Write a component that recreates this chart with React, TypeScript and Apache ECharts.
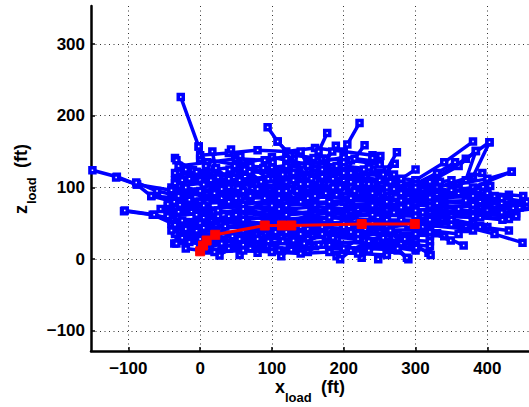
import React, { useEffect, useRef } from "react";
import * as echarts from "echarts";

type P = [number, number];

// Red reference trajectory (x_load, z_load) in ft
const redTrack: P[] = [
  [0, 11], [4, 19], [9, 26], [21, 34], [90, 47], [114, 47], [127, 47], [225, 49], [299, 49],
];

// Blue trajectories, grouped by region
const leftTracks: P[][] = [
  [[-150, 124], [-116, 115], [-88, 104], [-68, 88], [-14, 84]],
  [[-117, 114], [-88, 104], [-40, 96], [10, 92]],
  [[-106, 67], [-66, 62], [-35, 48], [-5, 40], [30, 42]],
  [[-105, 68], [-64, 62], [-40, 56], [-20, 52]],
  [[-89, 107], [-60, 95], [-30, 88], [0, 80]],
  [[-68, 88], [-36, 80], [-10, 70], [20, 66]],
  [[-36, 22], [-20, 28], [0, 32], [25, 34]],
  [[-33, 22], [-15, 24], [5, 20], [30, 25]],
  [[-28, 76], [-12, 66], [5, 58], [30, 55]],
  [[-15, 83], [5, 75], [25, 68], [50, 62]],
  [[-45, 60], [-25, 54], [0, 50], [30, 50]],
  [[-55, 70], [-30, 66], [-5, 62], [25, 60]],
  [[-40, 40], [-20, 42], [5, 44], [35, 46]],
  [[-25, 30], [0, 28], [20, 30], [45, 32]],
];

const upperLeftTracks: P[][] = [
  [[-27, 226], [-2, 157], [12, 115], [30, 85]],
  [[-2, 157], [8, 130], [20, 100], [40, 80]],
  [[17, 150], [22, 125], [35, 105], [55, 85]],
  [[43, 153], [48, 130], [55, 110], [70, 90]],
  [[53, 145], [62, 125], [80, 105], [100, 90]],
  [[-35, 141], [-20, 125], [0, 110], [30, 95]],
  [[-35, 120], [-15, 112], [10, 100], [40, 88]],
  [[-33, 138], [-10, 124], [15, 112], [45, 100]],
  [[-5, 122], [15, 110], [40, 100], [70, 88]],
  [[22, 127], [40, 112], [65, 100], [90, 85]],
  [[41, 125], [55, 110], [80, 98], [110, 85]],
  [[69, 122], [85, 108], [110, 95], [140, 80]],
  [[88, 127], [100, 112], [125, 98], [150, 85]],
  [[101, 135], [115, 118], [135, 100], [160, 88]],
  [[56, 144], [70, 130], [95, 112], [120, 95]],
  [[-20, 100], [0, 95], [20, 92], [50, 85]],
  [[-25, 110], [5, 104], [30, 98], [60, 95]],
];

const upperMidTracks: P[][] = [
  [[94, 184], [108, 164], [130, 140], [150, 115], [170, 95]],
  [[108, 164], [125, 145], [140, 120], [160, 100]],
  [[177, 176], [165, 150], [150, 125], [140, 105]],
  [[222, 190], [205, 160], [190, 130], [180, 105]],
  [[189, 158], [175, 140], [160, 120], [150, 100]],
  [[229, 159], [215, 140], [200, 120], [185, 100]],
  [[184, 150], [170, 130], [155, 112], [135, 95]],
  [[158, 141], [145, 125], [130, 110], [110, 95]],
  [[251, 144], [235, 128], [220, 112], [200, 95]],
  [[240, 141], [228, 125], [210, 108], [190, 90]],
  [[120, 140], [130, 120], [150, 105], [175, 92]],
  [[140, 150], [150, 130], [170, 115], [195, 100]],
  [[200, 135], [210, 120], [230, 105], [255, 92]],
  [[170, 125], [185, 112], [210, 100], [240, 88]],
];

const upperRightTracks: P[][] = [
  [[380, 164], [340, 135], [300, 110], [260, 95]],
  [[403, 163], [370, 140], [330, 115], [290, 100]],
  [[274, 149], [260, 125], [240, 105], [220, 92]],
  [[384, 151], [360, 130], [320, 108], [280, 95]],
  [[355, 135], [330, 120], [300, 105], [270, 98]],
  [[434, 122], [400, 112], [360, 105], [320, 100]],
  [[340, 90], [380, 115], [403, 163]],
  [[330, 85], [370, 110], [384, 151]],
  [[271, 133], [255, 118], [235, 105], [215, 95]],
  [[300, 125], [280, 112], [260, 100], [240, 92]],
  [[290, 90], [330, 100], [393, 120]],
  [[260, 80], [320, 90], [380, 100], [434, 122]],
];

const rightTracks: P[][] = [
  [[458, 80], [420, 78], [380, 76], [340, 72], [300, 68]],
  [[455, 80], [420, 85], [380, 88], [330, 85]],
  [[436, 71], [400, 68], [360, 66], [320, 64]],
  [[421, 55], [390, 58], [350, 60], [310, 60]],
  [[449, 23], [410, 35], [370, 45], [330, 52]],
  [[404, 102], [370, 95], [330, 90], [290, 85]],
  [[394, 101], [360, 92], [320, 86], [280, 82]],
  [[334, 108], [310, 98], [280, 92]],
  [[367, 19], [340, 32], [310, 45], [280, 55]],
  [[349, 26], [320, 38], [290, 48], [260, 55]],
  [[321, 6], [300, 20], [275, 35], [250, 45]],
  [[288, 2], [275, 15], [255, 30], [230, 42]],
  [[301, 16], [285, 28], [265, 40], [240, 50]],
  [[440, 60], [400, 62], [360, 70], [320, 75]],
  [[430, 40], [390, 45], [350, 55], [310, 65]],
  [[410, 88], [370, 82], [330, 78], [290, 75]],
  [[460, 70], [420, 65], [380, 60]],
  [[380, 40], [350, 48], [320, 55]],
  [[450, 88], [400, 92], [350, 96], [300, 100]],
];

const lowerTracks: P[][] = [
  [[27, 5], [40, 15], [60, 25], [90, 35]],
  [[55, 6], [70, 15], [95, 25], [120, 38]],
  [[80, 9], [95, 18], [120, 30], [150, 42]],
  [[113, 4], [125, 14], [150, 28], [180, 40]],
  [[127, 13], [145, 22], [170, 35], [200, 45]],
  [[171, 20], [190, 28], [215, 40], [240, 50]],
  [[190, 4], [200, 15], [220, 28], [250, 40]],
  [[195, 0], [210, 12], [235, 25], [265, 38]],
  [[225, 2], [235, 12], [255, 22], [280, 32]],
  [[248, 0], [260, 10], [280, 22], [300, 35]],
  [[290, 0], [275, 12], [250, 25], [220, 35]],
  [[318, 9], [295, 20], [270, 30], [240, 38]],
  [[10, 15], [30, 22], [55, 28], [85, 32]],
  [[150, 10], [165, 20], [185, 30], [210, 38]],
  [[100, 15], [115, 25], [140, 35], [170, 45]],
  [[60, 20], [80, 28], [105, 38], [130, 48]],
  [[-20, 15], [20, 10], [60, 12], [100, 10], [140, 8], [180, 10], [220, 8], [260, 6]],
];

const coreTracks: P[][] = [
  [[0, 60], [60, 70], [120, 75], [180, 80], [240, 85]],
  [[10, 80], [70, 85], [130, 90], [190, 92], [250, 88]],
  [[20, 100], [80, 105], [140, 100], [200, 95], [260, 90]],
  [[30, 45], [90, 50], [150, 55], [210, 60], [270, 65]],
  [[20, 35], [80, 40], [140, 45], [200, 50], [260, 55]],
  [[40, 110], [100, 115], [160, 110], [220, 105], [280, 100]],
  [[50, 120], [110, 125], [170, 120], [230, 115]],
  [[0, 70], [50, 65], [100, 60], [160, 65], [220, 70], [280, 72]],
  [[10, 50], [60, 55], [120, 62], [180, 68], [240, 75], [300, 78]],
  [[30, 90], [90, 95], [150, 95], [210, 85], [270, 80], [320, 80]],
  [[60, 40], [120, 50], [180, 58], [240, 62], [300, 60]],
  [[80, 30], [140, 38], [200, 42], [260, 45], [320, 50]],
  [[100, 75], [160, 85], [220, 95], [280, 105], [330, 110]],
  [[120, 130], [160, 125], [200, 118], [250, 110]],
  [[5, 25], [40, 30], [80, 35]],
  [[-30, 130], [10, 135], [50, 140], [90, 138], [130, 145], [170, 140], [210, 138], [250, 132]],
  [[0, 145], [40, 148], [80, 152], [120, 150], [160, 155], [200, 150], [240, 145]],
];

const fillTracks: P[][] = [
  [[-30, 118], [20, 125], [60, 130], [100, 128], [150, 135], [200, 130], [240, 125]],
  [[-35, 110], [10, 116], [60, 122], [110, 120], [160, 126], [210, 122], [260, 115], [300, 110]],
  [[-30, 102], [20, 108], [70, 112], [120, 108], [170, 115], [220, 110], [270, 106], [330, 100]],
  [[-40, 95], [10, 99], [60, 103], [110, 98], [160, 104], [210, 100], [260, 97], [320, 94], [380, 92]],
  [[-35, 88], [15, 92], [65, 95], [115, 90], [165, 96], [215, 92], [265, 90], [330, 88], [400, 86]],
  [[-40, 81], [10, 85], [60, 88], [110, 83], [160, 88], [210, 84], [260, 83], [320, 82], [390, 80], [450, 78]],
  [[-45, 74], [5, 78], [55, 80], [105, 76], [155, 80], [205, 77], [255, 76], [320, 75], [390, 73], [445, 72]],
  [[-40, 67], [10, 71], [60, 73], [110, 69], [160, 73], [210, 70], [260, 69], [320, 68], [380, 66], [440, 64]],
  [[-45, 60], [5, 64], [55, 66], [105, 62], [155, 66], [205, 63], [255, 62], [320, 61], [380, 58], [430, 56]],
  [[-40, 53], [10, 57], [60, 59], [110, 55], [160, 59], [210, 56], [260, 55], [320, 54], [380, 50]],
  [[-35, 46], [15, 50], [65, 52], [115, 48], [165, 52], [215, 49], [265, 48], [320, 47], [370, 42]],
  [[-35, 39], [15, 43], [65, 45], [115, 41], [165, 45], [215, 42], [265, 41], [320, 40], [360, 35]],
  [[-30, 32], [20, 36], [70, 38], [120, 34], [170, 38], [220, 35], [270, 34], [320, 33]],
  [[-25, 26], [25, 29], [75, 31], [125, 27], [175, 31], [225, 28], [275, 27], [320, 25]],
  [[0, 20], [40, 23], [90, 24], [140, 21], [190, 24], [240, 22], [290, 20]],
  [[30, 14], [80, 17], [130, 15], [180, 17], [230, 15], [270, 13]],
  [[-40, 100], [30, 80], [100, 60], [170, 40], [240, 25]],
  [[-30, 40], [40, 60], [110, 85], [180, 105], [250, 120]],
  [[0, 120], [80, 100], [160, 70], [240, 40], [300, 25]],
  [[50, 20], [120, 50], [200, 80], [280, 100], [350, 110]],
  [[150, 130], [200, 110], [260, 80], [330, 60], [400, 45]],
  [[280, 30], [330, 50], [380, 70], [430, 90]],
  [[-30, 121], [25, 114], [70, 126], [120, 118], [170, 130], [220, 120], [270, 118]],
  [[-35, 106], [15, 112], [65, 104], [115, 114], [165, 106], [215, 116], [265, 108], [310, 104]],
  [[-40, 91], [20, 96], [70, 88], [120, 96], [170, 90], [220, 98], [280, 90], [340, 92], [400, 90]],
  [[-45, 77], [10, 82], [60, 76], [110, 84], [160, 76], [210, 82], [270, 78], [340, 80], [410, 76], [455, 75]],
  [[-45, 63], [10, 68], [60, 62], [110, 70], [160, 62], [210, 68], [270, 65], [340, 64], [400, 62], [440, 60]],
  [[-40, 49], [15, 54], [65, 48], [115, 54], [165, 48], [215, 54], [270, 50], [330, 50], [390, 46]],
  [[-35, 35], [20, 40], [70, 34], [120, 40], [170, 34], [220, 40], [270, 36], [330, 36]],
  [[-20, 22], [30, 26], [80, 20], [130, 26], [180, 20], [230, 26], [280, 22], [320, 18]],
  [[10, 12], [60, 18], [110, 12], [160, 18], [210, 12], [260, 18], [300, 12]],
  [[0, 140], [50, 132], [100, 142], [150, 132], [200, 142], [250, 136]],
];

const blueTracks: P[][] = [
  ...fillTracks,
  ...coreTracks,
  ...leftTracks,
  ...lowerTracks,
  ...upperLeftTracks,
  ...upperMidTracks,
  ...upperRightTracks,
  ...rightTracks,
];

const FONT = "'Liberation Sans', Arial, Helvetica, sans-serif";

export default function App() {
  const ref = useRef<HTMLDivElement>(null);
  useEffect(() => {
    document.body.style.margin = "0";
    const chart = echarts.init(ref.current!, undefined, { renderer: "svg" });
    const blueSeries = blueTracks.map((t, i) => ({
      type: "line",
      data: t,
      symbol: "rect",
      symbolSize: 5,
      showSymbol: true,
      itemStyle: { color: "#ffffff", borderColor: "#0000ff", borderWidth: 3.5 },
      lineStyle: { color: "#0000ff", width: 3.5 },
      silent: true,
      z: 3 + i,
    }));
    const redSeries = {
      type: "line",
      data: redTrack,
      symbol: "rect",
      symbolSize: 9,
      itemStyle: { color: "#ff0000", borderColor: "#ff0000", borderWidth: 1 },
      lineStyle: { color: "#ff0000", width: 3 },
      silent: true,
      z: 3 + blueTracks.length + 1,
    };
    const fmt = (v: number) => String(v).replace("-", "\u2212");
    const axisCommon = {
      minInterval: 100,
      maxInterval: 100,
      axisLine: { show: true, onZero: false, lineStyle: { color: "#000", width: 2.5 } },
      axisTick: { show: true, inside: true, length: 4, lineStyle: { color: "#000", width: 1.5 } },
      axisLabel: {
        color: "#000",
        fontSize: 17,
        fontWeight: "bold",
        fontFamily: FONT,
        showMinLabel: false,
        showMaxLabel: false,
        formatter: fmt,
      },
      splitLine: {
        show: true,
        showMinLine: false,
        showMaxLine: false,
        lineStyle: { color: "#333", width: 1, type: [1, 3.5] },
      },
    };
    chart.setOption({
      animation: false,
      grid: { left: 91, right: 0, top: 6, bottom: 56, containLabel: false },
      xAxis: {
        type: "value",
        min: -152,
        max: 458,
        ...axisCommon,
        axisLabel: { ...axisCommon.axisLabel, margin: 9 },
      },
      yAxis: {
        type: "value",
        min: -128,
        max: 353,
        ...axisCommon,
        axisLabel: { ...axisCommon.axisLabel, margin: 6 },
      },
      graphic: [
        { type: "text", x: 275, y: 396, style: { text: "x", font: `bold 18px ${FONT}`, fill: "#000", verticalAlign: "bottom" } },
        { type: "text", x: 285, y: 404, style: { text: "load", font: `bold 13px ${FONT}`, fill: "#000", verticalAlign: "bottom" } },
        { type: "text", x: 321, y: 396, style: { text: "(ft)", font: `bold 18px ${FONT}`, fill: "#000", verticalAlign: "bottom" } },
        {
          type: "group",
          x: 30,
          y: 214,
          rotation: Math.PI / 2,
          children: [
            { type: "text", x: 0, y: 0, style: { text: "z", font: `bold 18px ${FONT}`, fill: "#000", verticalAlign: "bottom" } },
            { type: "text", x: 10, y: 8, style: { text: "load", font: `bold 13px ${FONT}`, fill: "#000", verticalAlign: "bottom" } },
            { type: "text", x: 46, y: 0, style: { text: "(ft)", font: `bold 18px ${FONT}`, fill: "#000", verticalAlign: "bottom" } },
          ],
        },
      ],
      series: [...blueSeries, redSeries],
    });
    return () => chart.dispose();
  }, []);
  return <div ref={ref} style={{ width: 529, height: 407 }} />;
}
